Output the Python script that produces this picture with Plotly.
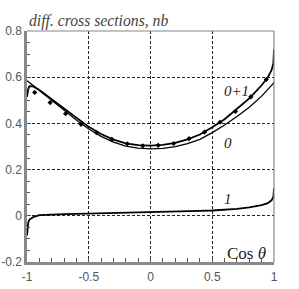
import plotly.graph_objects as go

x_curve = [-1, -0.995, -0.99, -0.98, -0.95, -0.9, -0.8, -0.7, -0.6, -0.5, -0.4, -0.3, -0.2, -0.1,
           0, 0.1, 0.2, 0.3, 0.4, 0.5, 0.6, 0.7, 0.8, 0.9, 0.95, 0.98, 0.995, 1]
curve_0 = [0.585, 0.583, 0.581, 0.577, 0.564, 0.543, 0.500, 0.457, 0.415, 0.376, 0.344, 0.319, 0.302, 0.293,
           0.290, 0.292, 0.299, 0.312, 0.331, 0.360, 0.393, 0.430, 0.470, 0.518, 0.545, 0.563, 0.573, 0.580]
curve_1 = [-0.085, -0.045, -0.029, -0.016, -0.006, 0.003, 0.006, 0.007, 0.008, 0.009, 0.010, 0.011, 0.012, 0.013,
           0.014, 0.015, 0.017, 0.019, 0.021, 0.023, 0.026, 0.030, 0.036, 0.046, 0.055, 0.067, 0.082, 0.12]
curve_01 = [0.515, 0.538, 0.551, 0.561, 0.560, 0.545, 0.505, 0.464, 0.423, 0.385, 0.354, 0.330, 0.314, 0.306,
            0.304, 0.307, 0.316, 0.331, 0.352, 0.383, 0.418, 0.462, 0.508, 0.565, 0.600, 0.630, 0.660, 0.720]

x_data = [-0.9375, -0.8125, -0.6875, -0.5625, -0.4375, -0.3125, -0.1875, -0.0625,
          0.0625, 0.1875, 0.3125, 0.4375, 0.5625, 0.6875, 0.8125, 0.9375]
y_data = [0.534, 0.490, 0.442, 0.396, 0.360, 0.331, 0.312, 0.303,
          0.305, 0.313, 0.334, 0.362, 0.405, 0.452, 0.515, 0.590]

x_ticks = [-1, -0.5, 0, 0.5, 1]
x_tick_text = ["-1", "-0.5", "0", "0.5", "1"]
y_ticks = [-0.2, 0, 0.2, 0.4, 0.6, 0.8]
y_tick_text = ["-0.2", "0", "0.2", "0.4", "0.6", "0.8"]

fig = go.Figure()
fig.add_trace(go.Scatter(x=x_curve, y=curve_0, mode="lines", line=dict(color="black", width=1.3)))
fig.add_trace(go.Scatter(x=x_curve, y=curve_01, mode="lines", line=dict(color="black", width=1.8)))
fig.add_trace(go.Scatter(x=x_curve, y=curve_1, mode="lines", line=dict(color="black", width=1.8)))
fig.add_trace(go.Scatter(x=x_data, y=y_data, mode="markers",
                         marker=dict(symbol="diamond", size=4, color="black")))

serif = "Liberation Serif, Times New Roman, serif"
ann = [
    dict(x=0.70, y=0.54, text="<i>0+1</i>", size=15),
    dict(x=0.63, y=0.317, text="<i>0</i>", size=15),
    dict(x=0.63, y=0.072, text="<i>1</i>", size=15),
    dict(x=0.775, y=-0.165, text="Cos <i>θ</i>", size=17),
]
for a in ann:
    fig.add_annotation(x=a["x"], y=a["y"], xref="x", yref="y", text=a["text"], showarrow=False,
                       font=dict(family=serif, size=a["size"], color="#222"))
fig.add_annotation(x=0, y=1.0, xref="paper", yref="paper", xanchor="left", yanchor="bottom",
                   text="<i>diff. cross sections, nb</i>", showarrow=False, yshift=-1,
                   font=dict(family=serif, size=15.7, color="#444"))

# thin top/right frame
fig.add_shape(type="line", xref="x domain", yref="y domain", x0=0, x1=1, y0=1, y1=1,
              line=dict(color="#888", width=1.2))
fig.add_shape(type="line", xref="x domain", yref="y domain", x0=1, x1=1, y0=0, y1=1,
              line=dict(color="#888", width=1.2))

tick_font = dict(family="Liberation Sans, Arial", size=12, color="#555")
fig.update_xaxes(range=[-1, 1], tickvals=x_ticks, ticktext=x_tick_text, automargin=False,
                 showline=True, linecolor="#888", linewidth=2.5,
                 showgrid=True, gridcolor="#222", griddash="3px,2px", gridwidth=1,
                 ticks="inside", ticklen=4, tickcolor="#555", ticklabelstandoff=2,
                 minor=dict(dtick=0.1, ticks="inside", ticklen=4, tickcolor="#555", showgrid=False),
                 zeroline=False, tickfont=tick_font)
fig.update_yaxes(range=[-0.2, 0.8], tickvals=y_ticks, ticktext=y_tick_text, automargin=False,
                 showline=True, linecolor="#888", linewidth=2.5,
                 showgrid=True, gridcolor="#222", griddash="3px,2px", gridwidth=1,
                 ticks="inside", ticklen=4, tickcolor="#555",
                 minor=dict(dtick=0.05, ticks="inside", ticklen=3, tickcolor="#555", showgrid=False),
                 zeroline=False, tickfont=tick_font)

fig.update_layout(width=299, height=289, margin=dict(l=27, r=25, t=31, b=27),
                  plot_bgcolor="white", paper_bgcolor="white", showlegend=False)
fig.write_html("out.html", config={"displayModeBar": False},
               post_script="document.body.style.margin='0';document.body.style.overflow='hidden';")
